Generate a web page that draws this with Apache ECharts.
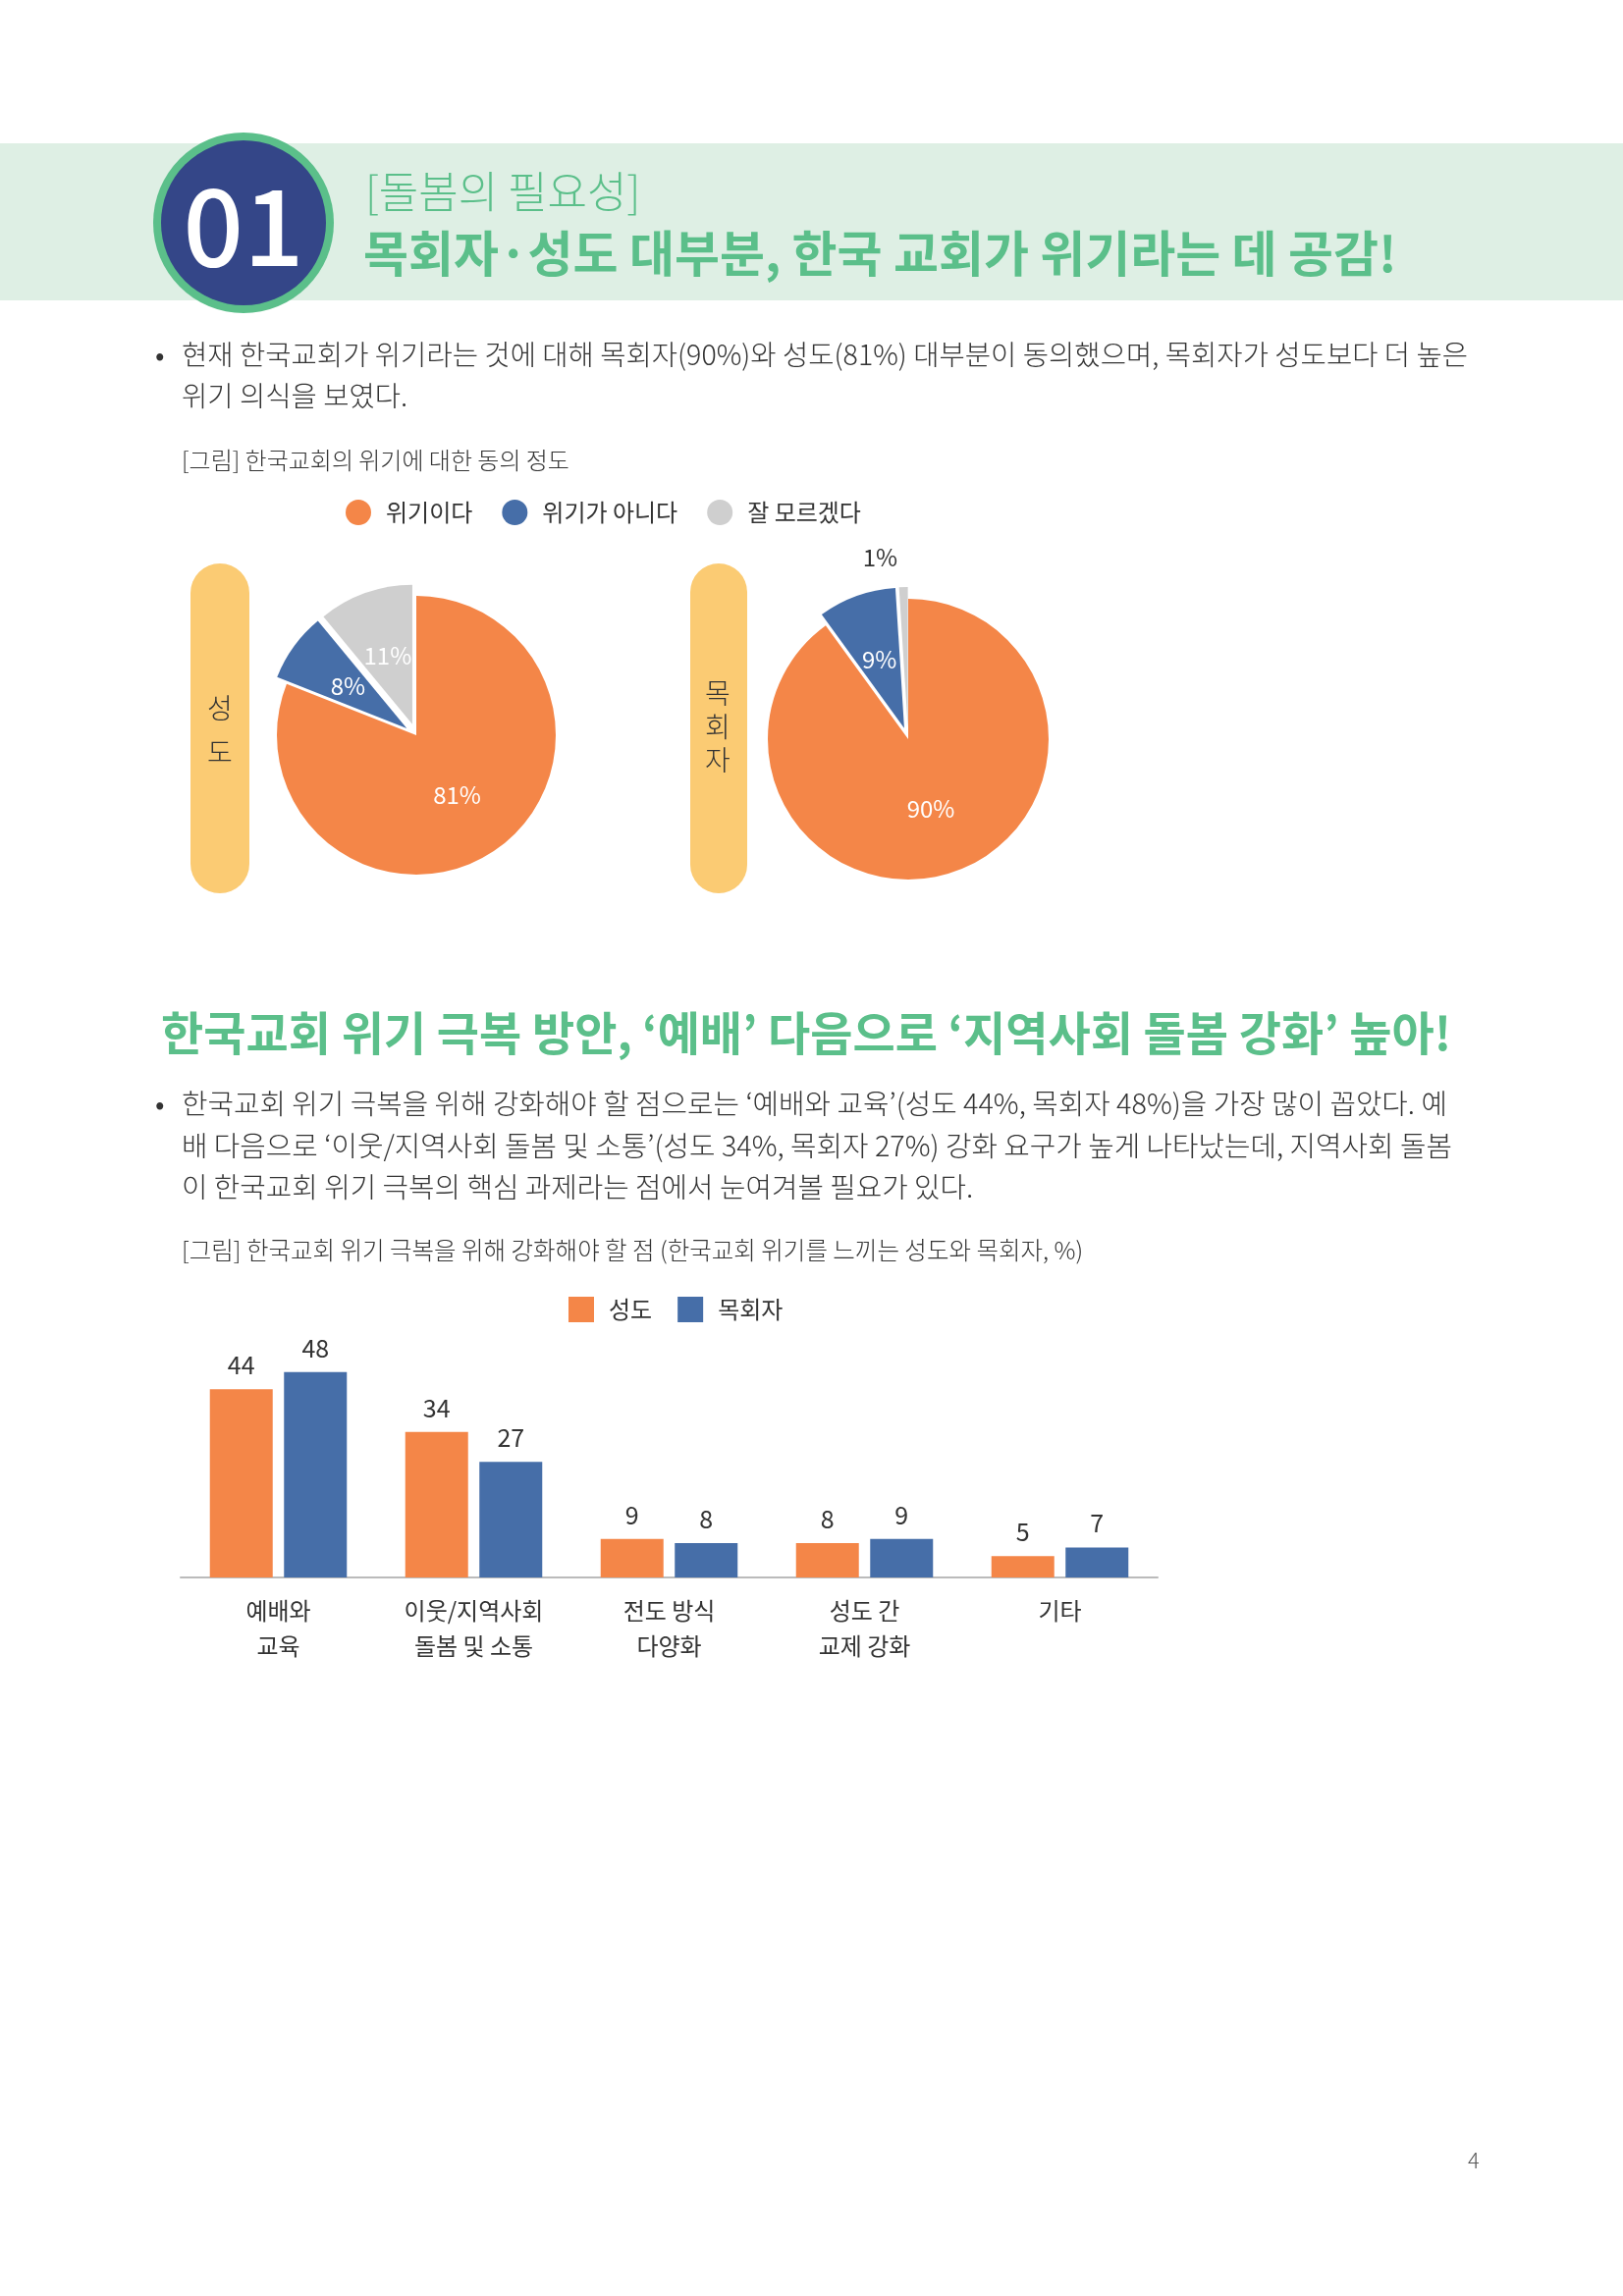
<!DOCTYPE html>
<html>
<head>
<meta charset="utf-8">
<script src="https://cdn.jsdelivr.net/npm/echarts@6/dist/echarts.min.js"></script>
<style>
  html, body { margin: 0; padding: 0; background: #fff; }
  #main { width: 1653px; height: 2339px; }
</style>
</head>
<body>
<div id="main"></div>
<script>
// pie data
const pieNames = ['위기이다', '위기가 아니다', '잘 모르겠다'];
const believerPie = [81, 8, 11];
const pastorPie = [90, 9, 1];

// bar data
const barCategories = ['예배와\n교육', '이웃/지역사회\n돌봄 및 소통', '전도 방식\n다양화', '성도 간\n교제 강화', '기타'];
const believerBars = [44, 34, 9, 8, 5];
const pastorBars = [48, 27, 8, 9, 7];

const ORANGE = '#f48648', BLUE = '#466ea8', GRAY = '#cfcfcf';
const GREEN = '#5bbf8a', FONT = '"Noto Sans CJK KR", "Noto Sans", sans-serif';
const pieColors = [ORANGE, BLUE, GRAY];

const chart = echarts.init(document.getElementById('main'));

function pieData(vals) {
  return vals.map((v, i) => ({
    name: pieNames[i],
    value: v,
    selected: i > 0,
    itemStyle: { color: pieColors[i] }
  }));
}

function txt(x, y, text, size, color, weight, align) {
  return {
    type: 'text', x: x, y: y,
    style: { text: text, fontSize: size, fill: color, fontWeight: weight || 'normal', fontFamily: FONT,
      textAlign: align || 'left', textVerticalAlign: 'middle' }
  };
}

const graphics = [
  { type: 'rect', shape: { x: 0, y: 146, width: 1653, height: 160 }, style: { fill: '#deefe4' } },
  { type: 'circle', shape: { cx: 248, cy: 227, r: 92 }, style: { fill: '#5bbf8a' } },
  { type: 'circle', shape: { cx: 248, cy: 227, r: 84 }, style: { fill: '#344688' } },
  txt(248, 230, '01', 108, '#fff', 500, 'center'),
  txt(372, 195, '[돌봄의 필요성]', 44, GREEN, 300),
  txt(370, 258, '목회자·성도 대부분, 한국 교회가 위기라는 데 공감!', 50, GREEN, 'bold'),
  txt(158, 361, '•', 28, '#333'),
  txt(185, 361, '현재 한국교회가 위기라는 것에 대해 목회자(90%)와 성도(81%) 대부분이 동의했으며, 목회자가 성도보다 더 높은', 28.6, '#333', 300),
  txt(185, 403, '위기 의식을 보였다.', 28.6, '#333', 300),
  txt(185, 469, '[그림] 한국교회의 위기에 대한 동의 정도', 24, '#333', 300),
  { type: 'rect', shape: { x: 194, y: 574, width: 60, height: 336, r: 30 }, style: { fill: '#fbcb73' } },
  txt(224, 721, '성', 28, '#333', 300, 'center'),
  txt(224, 766, '도', 28, '#333', 300, 'center'),
  { type: 'rect', shape: { x: 703, y: 574, width: 58, height: 336, r: 29 }, style: { fill: '#fbcb73' } },
  txt(731, 706, '목', 28, '#333', 300, 'center'),
  txt(731, 740, '회', 28, '#333', 300, 'center'),
  txt(731, 774, '자', 28, '#333', 300, 'center'),
  txt(164, 1052, '한국교회 위기 극복 방안, ‘예배’ 다음으로 ‘지역사회 돌봄 강화’ 높아!', 47, GREEN, 'bold'),
  txt(158, 1124, '•', 28, '#333'),
  txt(185, 1124, '한국교회 위기 극복을 위해 강화해야 할 점으로는 ‘예배와 교육’(성도 44%, 목회자 48%)을 가장 많이 꼽았다. 예', 28.8, '#333', 300),
  txt(185, 1167, '배 다음으로 ‘이웃/지역사회 돌봄 및 소통’(성도 34%, 목회자 27%) 강화 요구가 높게 나타났는데, 지역사회 돌봄', 28.8, '#333', 300),
  txt(185, 1209, '이 한국교회 위기 극복의 핵심 과제라는 점에서 눈여겨볼 필요가 있다.', 28.8, '#333', 300),
  txt(185, 1274, '[그림] 한국교회 위기 극복을 위해 강화해야 할 점 (한국교회 위기를 느끼는 성도와 목회자, %)', 24.5, '#333', 300),
  txt(1495, 2201, '4', 22, '#555', 300)
];

const legendText = { fontSize: 24, color: '#333', fontFamily: FONT, padding: [0, 0, 0, 10] };

chart.setOption({
  animation: false,
  textStyle: { fontFamily: FONT },
  graphic: graphics,
  legend: [
    {
      data: pieNames, left: 347, top: 504, icon: 'circle', itemWidth: 26, itemHeight: 26, itemGap: 30,
      textStyle: legendText, selectedMode: false
    },
    {
      data: ['성도', '목회자'], left: 574, top: 1316, icon: 'rect', itemWidth: 26, itemHeight: 26, itemGap: 26,
      textStyle: legendText, selectedMode: false
    }
  ],
  grid: { left: 184, top: 1389, width: 995, height: 218 },
  xAxis: {
    type: 'category', data: barCategories,
    axisLine: { lineStyle: { color: '#bbb', width: 2 } },
    axisTick: { show: false },
    axisLabel: { fontSize: 24, color: '#333', lineHeight: 36, margin: 16, fontFamily: FONT }
  },
  yAxis: { type: 'value', min: 0, max: 50, show: false, splitLine: { show: false } },
  series: [
    {
      type: 'pie', center: [424, 749], radius: [0, 142], startAngle: 90, clockwise: true,
      selectedMode: 'multiple', selectedOffset: 12,
      data: pieData(believerPie),
      label: { position: 'inside', formatter: '{c}%', color: '#fff', fontSize: 24, fontFamily: FONT },
      labelLine: { show: false }, silent: true
    },
    {
      type: 'pie', center: [925, 753], radius: [0, 143], startAngle: 90, clockwise: true,
      selectedMode: 'multiple', selectedOffset: 12,
      data: pieData(pastorPie).map((d, i) => i === 2
        ? Object.assign(d, { label: { position: 'outside', color: '#333' }, labelLine: { show: false, length: 30, length2: 0 } })
        : d),
      label: { position: 'inside', formatter: '{c}%', color: '#fff', fontSize: 24, fontFamily: FONT },
      labelLine: { show: false }, silent: true
    },
    {
      name: '성도', type: 'bar', data: believerBars, barWidth: 64, barGap: '18%',
      itemStyle: { color: ORANGE },
      label: { show: true, position: 'top', distance: 12, fontSize: 25, color: '#333', fontFamily: FONT }
    },
    {
      name: '목회자', type: 'bar', data: pastorBars, barWidth: 64,
      itemStyle: { color: BLUE },
      label: { show: true, position: 'top', distance: 12, fontSize: 25, color: '#333', fontFamily: FONT }
    }
  ]
});
</script>
</body>
</html>
